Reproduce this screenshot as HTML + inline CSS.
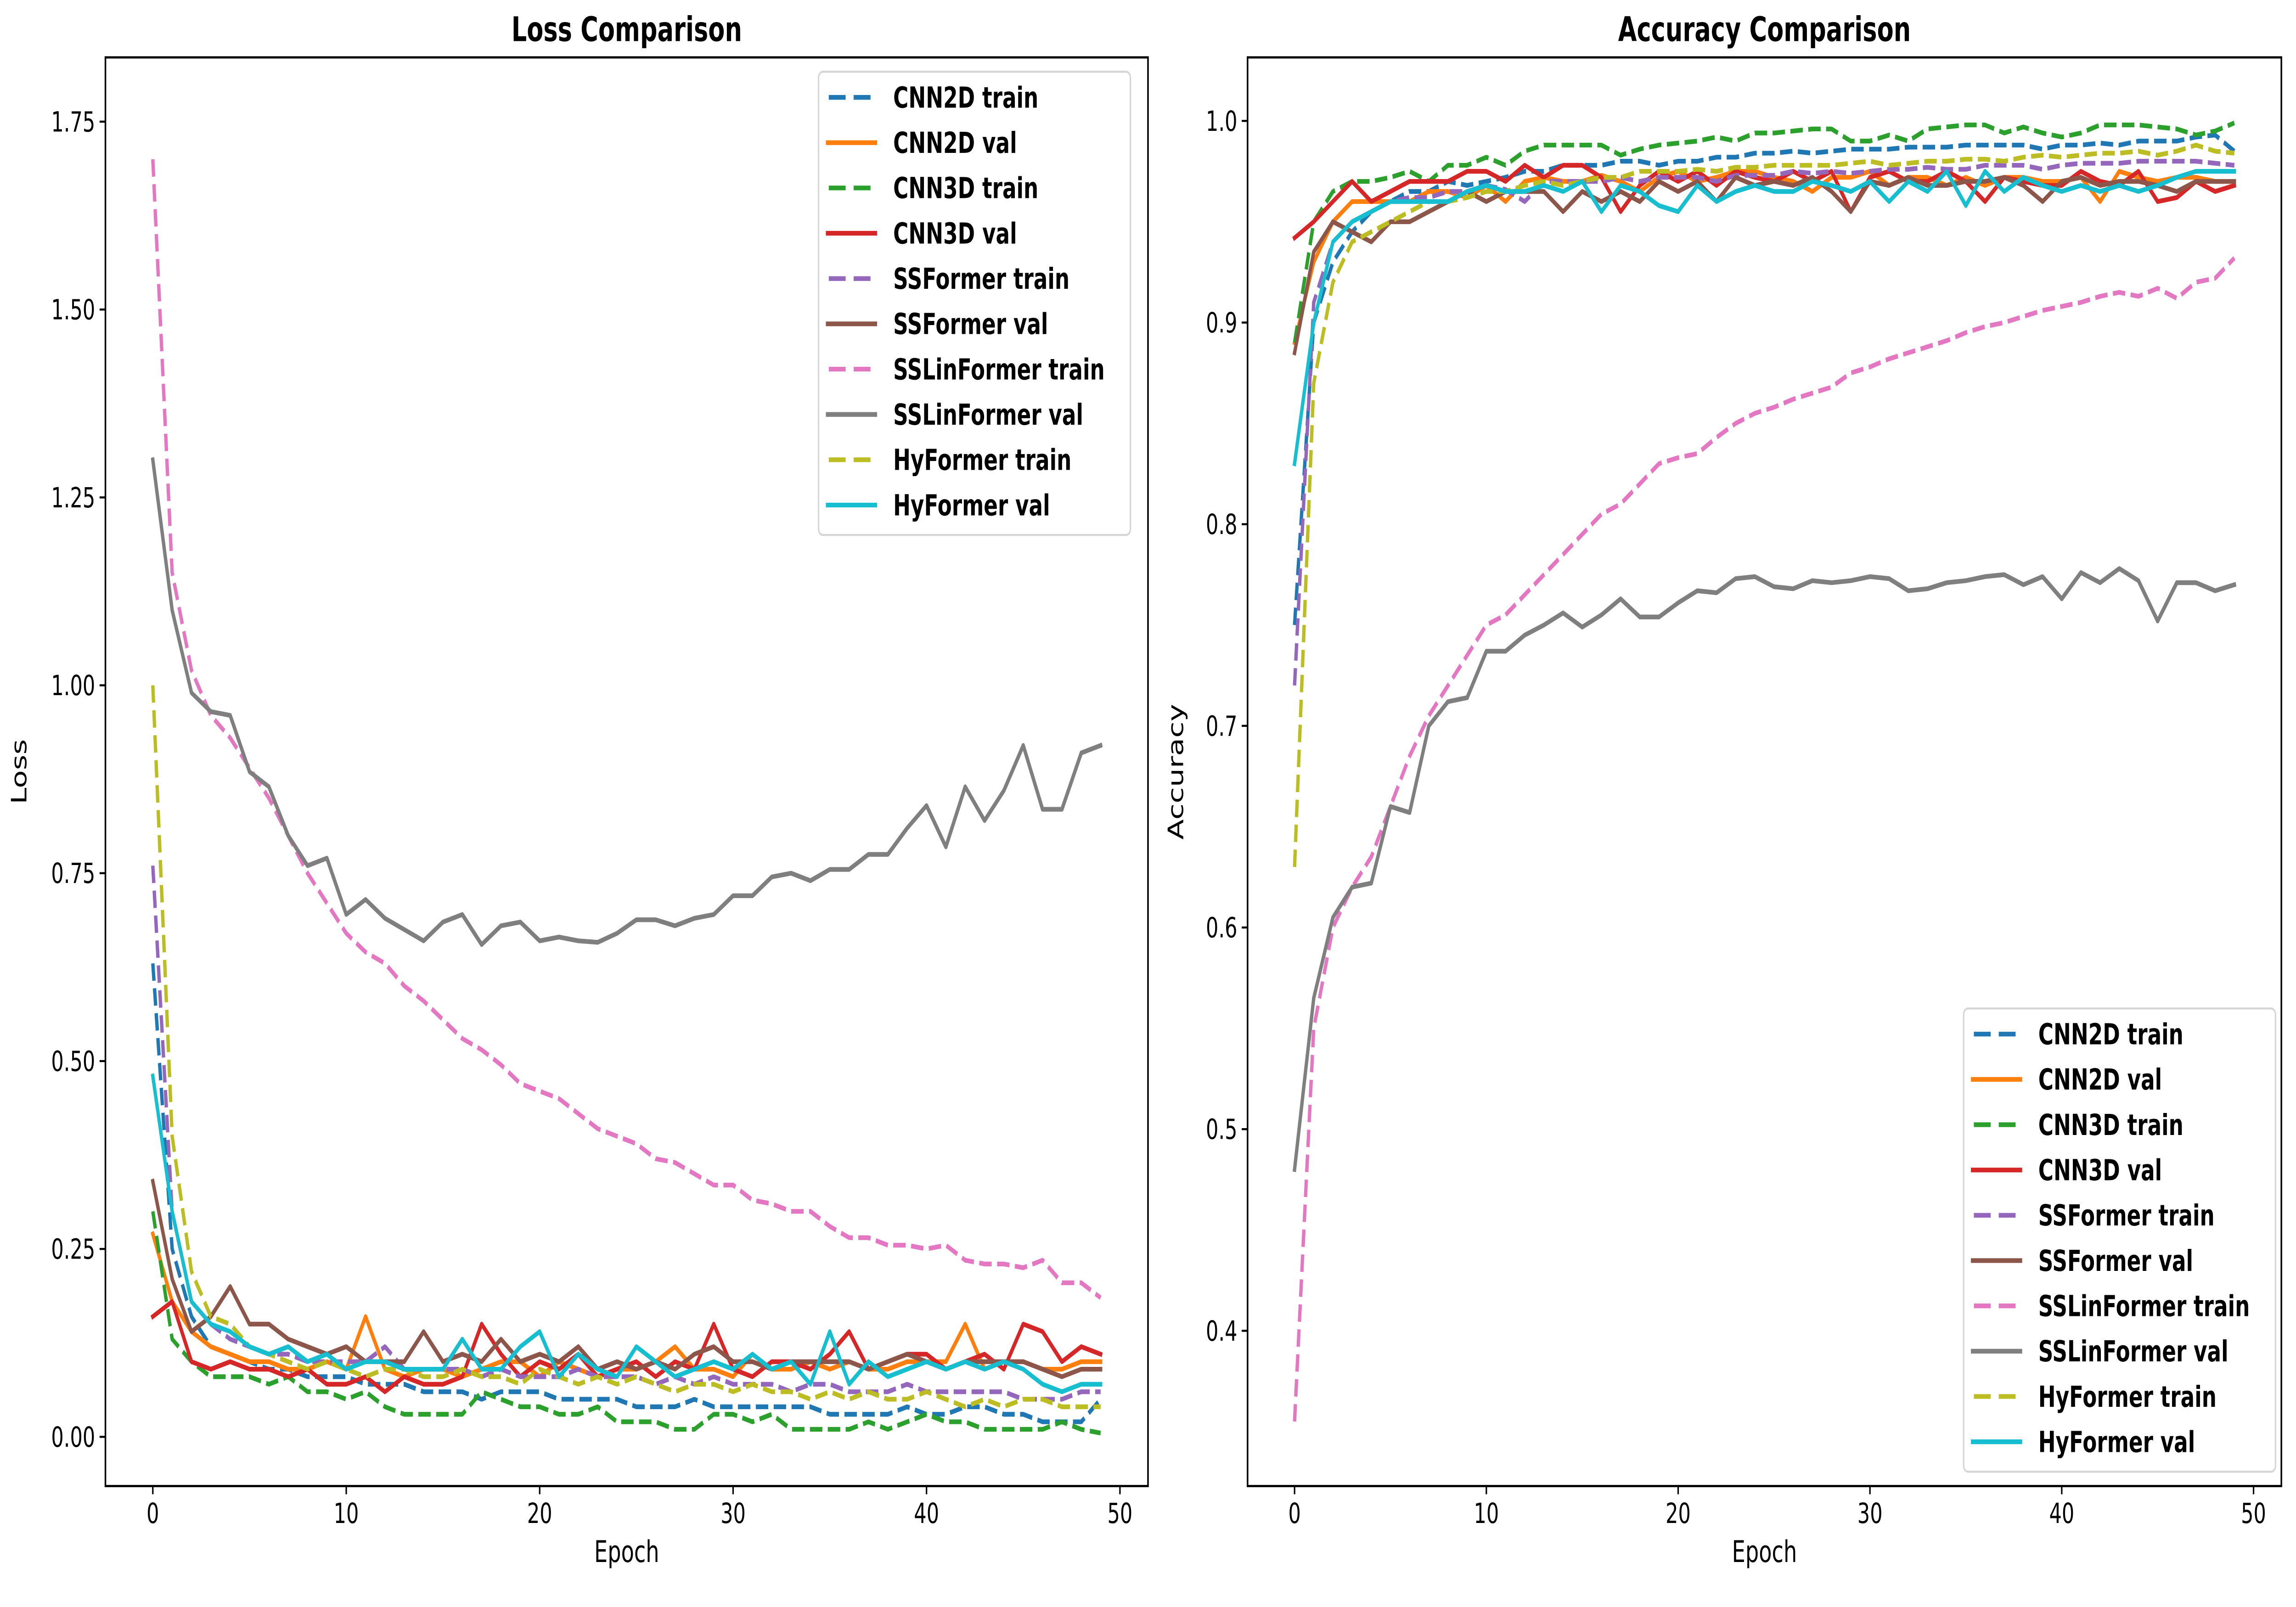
<!DOCTYPE html>
<html><head><meta charset="utf-8"><style>html,body{margin:0;padding:0;background:#fff;overflow:hidden;width:100%;height:100%}svg{display:block;width:100vw;height:100vh}</style></head>
<body>
<svg id="fig" viewBox="0 0 1568 784" preserveAspectRatio="none" xmlns="http://www.w3.org/2000/svg" font-family="DejaVu Sans, Liberation Sans, sans-serif">
<rect width="1568" height="784" fill="#fff"/>
</svg>
<script>
const epochs = Array.from({length:50},(_,i)=>i);
const seriesNames = ["CNN2D train","CNN2D val","CNN3D train","CNN3D val","SSFormer train","SSFormer val","SSLinFormer train","SSLinFormer val","HyFormer train","HyFormer val"];
const seriesColors = ["#1f77b4","#ff7f0e","#2ca02c","#d62728","#9467bd","#8c564b","#e377c2","#7f7f7f","#bcbd22","#17becf"];
const lossCnn2dTrain=[0.63,0.25,0.16,0.12,0.11,0.10,0.09,0.09,0.08,0.08,0.08,0.07,0.07,0.07,0.06,0.06,0.06,0.05,0.06,0.06,0.06,0.05,0.05,0.05,0.05,0.04,0.04,0.04,0.05,0.04,0.04,0.04,0.04,0.04,0.04,0.03,0.03,0.03,0.03,0.04,0.03,0.03,0.04,0.04,0.03,0.03,0.02,0.02,0.02,0.05];
const lossCnn2dVal=[0.27,0.18,0.14,0.12,0.11,0.10,0.10,0.09,0.09,0.10,0.09,0.16,0.09,0.08,0.09,0.09,0.08,0.09,0.10,0.10,0.08,0.10,0.09,0.08,0.09,0.09,0.10,0.12,0.09,0.09,0.08,0.11,0.09,0.09,0.10,0.09,0.10,0.09,0.09,0.10,0.10,0.10,0.15,0.09,0.10,0.10,0.09,0.09,0.10,0.10];
const lossCnn3dTrain=[0.30,0.13,0.10,0.08,0.08,0.08,0.07,0.08,0.06,0.06,0.05,0.06,0.04,0.03,0.03,0.03,0.03,0.06,0.05,0.04,0.04,0.03,0.03,0.04,0.02,0.02,0.02,0.01,0.01,0.03,0.03,0.02,0.03,0.01,0.01,0.01,0.01,0.02,0.01,0.02,0.03,0.02,0.02,0.01,0.01,0.01,0.01,0.02,0.01,0.005];
const lossCnn3dVal=[0.16,0.18,0.10,0.09,0.10,0.09,0.09,0.08,0.09,0.07,0.07,0.08,0.06,0.08,0.07,0.07,0.08,0.15,0.11,0.08,0.10,0.09,0.11,0.08,0.09,0.10,0.08,0.10,0.09,0.15,0.09,0.08,0.10,0.10,0.09,0.11,0.14,0.09,0.10,0.11,0.11,0.09,0.10,0.11,0.09,0.15,0.14,0.10,0.12,0.11];
const lossSsfTrain=[0.76,0.30,0.18,0.15,0.13,0.12,0.11,0.11,0.10,0.10,0.10,0.10,0.12,0.09,0.09,0.09,0.09,0.08,0.09,0.08,0.08,0.08,0.09,0.08,0.08,0.08,0.07,0.08,0.07,0.08,0.07,0.07,0.07,0.06,0.07,0.07,0.06,0.06,0.06,0.07,0.06,0.06,0.06,0.06,0.06,0.05,0.05,0.05,0.06,0.06];
const lossSsfVal=[0.34,0.21,0.14,0.16,0.20,0.15,0.15,0.13,0.12,0.11,0.12,0.10,0.10,0.10,0.14,0.10,0.11,0.10,0.13,0.10,0.11,0.10,0.12,0.09,0.10,0.09,0.10,0.09,0.11,0.12,0.10,0.10,0.09,0.10,0.10,0.10,0.10,0.09,0.10,0.11,0.10,0.09,0.10,0.10,0.10,0.10,0.09,0.08,0.09,0.09];
const lossSslTrain=[1.70,1.15,1.02,0.96,0.93,0.89,0.85,0.80,0.75,0.71,0.67,0.645,0.63,0.60,0.58,0.555,0.53,0.515,0.495,0.47,0.46,0.45,0.43,0.41,0.40,0.39,0.37,0.365,0.35,0.335,0.335,0.315,0.31,0.30,0.30,0.28,0.265,0.265,0.255,0.255,0.25,0.255,0.235,0.23,0.23,0.225,0.235,0.205,0.205,0.185];
const lossSslVal=[1.30,1.10,0.99,0.965,0.96,0.885,0.865,0.80,0.76,0.77,0.695,0.715,0.69,0.675,0.66,0.685,0.695,0.655,0.68,0.685,0.66,0.665,0.66,0.658,0.67,0.688,0.688,0.68,0.69,0.695,0.72,0.72,0.745,0.75,0.74,0.755,0.755,0.775,0.775,0.81,0.84,0.785,0.865,0.82,0.86,0.92,0.835,0.835,0.91,0.92];
const lossHyTrain=[1.00,0.40,0.22,0.16,0.15,0.12,0.11,0.10,0.09,0.10,0.09,0.08,0.09,0.09,0.08,0.08,0.09,0.08,0.08,0.07,0.09,0.08,0.07,0.08,0.07,0.08,0.07,0.06,0.07,0.07,0.06,0.07,0.06,0.06,0.05,0.06,0.05,0.06,0.05,0.05,0.06,0.05,0.04,0.05,0.04,0.05,0.05,0.04,0.04,0.04];
const lossHyVal=[0.48,0.30,0.18,0.15,0.14,0.12,0.11,0.12,0.10,0.11,0.09,0.10,0.10,0.09,0.09,0.09,0.13,0.09,0.09,0.12,0.14,0.08,0.11,0.09,0.08,0.12,0.10,0.08,0.09,0.10,0.09,0.11,0.09,0.10,0.07,0.14,0.07,0.10,0.08,0.09,0.10,0.09,0.10,0.09,0.10,0.09,0.07,0.06,0.07,0.07];
const accCnn2dTrain=[0.75,0.90,0.93,0.945,0.955,0.96,0.965,0.965,0.97,0.968,0.97,0.972,0.975,0.975,0.978,0.978,0.978,0.98,0.98,0.978,0.98,0.98,0.982,0.982,0.984,0.984,0.985,0.984,0.985,0.986,0.986,0.986,0.987,0.987,0.987,0.988,0.988,0.988,0.988,0.986,0.988,0.988,0.989,0.988,0.99,0.99,0.99,0.992,0.993,0.985];
const accCnn2dVal=[0.89,0.93,0.95,0.96,0.96,0.96,0.96,0.965,0.965,0.962,0.968,0.96,0.97,0.972,0.97,0.97,0.973,0.97,0.965,0.972,0.975,0.97,0.972,0.975,0.975,0.972,0.97,0.965,0.972,0.972,0.975,0.968,0.972,0.972,0.968,0.972,0.968,0.972,0.972,0.97,0.97,0.972,0.96,0.975,0.972,0.97,0.972,0.972,0.97,0.97];
const accCnn3dTrain=[0.89,0.95,0.965,0.97,0.97,0.972,0.975,0.97,0.978,0.978,0.982,0.978,0.985,0.988,0.988,0.988,0.988,0.983,0.986,0.988,0.989,0.99,0.992,0.99,0.994,0.994,0.995,0.996,0.996,0.99,0.99,0.993,0.99,0.996,0.997,0.998,0.998,0.994,0.997,0.994,0.992,0.994,0.998,0.998,0.998,0.997,0.996,0.993,0.995,0.999];
const accCnn3dVal=[0.942,0.95,0.96,0.97,0.96,0.965,0.97,0.97,0.97,0.975,0.975,0.97,0.978,0.972,0.978,0.978,0.972,0.955,0.968,0.975,0.97,0.975,0.968,0.975,0.972,0.97,0.975,0.97,0.975,0.955,0.972,0.975,0.97,0.97,0.975,0.97,0.96,0.972,0.97,0.968,0.968,0.975,0.97,0.968,0.975,0.96,0.962,0.97,0.965,0.968];
const accSsfTrain=[0.72,0.91,0.94,0.95,0.955,0.96,0.962,0.962,0.965,0.965,0.968,0.966,0.96,0.97,0.97,0.97,0.97,0.972,0.97,0.972,0.972,0.972,0.97,0.973,0.973,0.973,0.975,0.974,0.975,0.974,0.975,0.976,0.976,0.977,0.976,0.976,0.978,0.978,0.978,0.976,0.978,0.979,0.979,0.979,0.98,0.98,0.98,0.98,0.979,0.978];
const accSsfVal=[0.885,0.935,0.95,0.945,0.94,0.95,0.95,0.955,0.96,0.965,0.96,0.965,0.965,0.965,0.955,0.965,0.96,0.965,0.96,0.97,0.965,0.97,0.96,0.972,0.968,0.97,0.968,0.972,0.965,0.955,0.97,0.968,0.972,0.968,0.968,0.97,0.97,0.972,0.968,0.96,0.97,0.972,0.968,0.97,0.97,0.968,0.965,0.97,0.97,0.97];
const accSslTrain=[0.355,0.55,0.60,0.62,0.635,0.66,0.685,0.705,0.72,0.735,0.75,0.755,0.765,0.775,0.785,0.795,0.805,0.81,0.82,0.83,0.833,0.835,0.843,0.85,0.855,0.858,0.862,0.865,0.868,0.875,0.878,0.882,0.885,0.888,0.891,0.895,0.898,0.90,0.903,0.906,0.908,0.91,0.913,0.915,0.913,0.917,0.912,0.92,0.922,0.932];
const accSslVal=[0.48,0.565,0.605,0.62,0.622,0.66,0.657,0.70,0.712,0.714,0.737,0.737,0.745,0.75,0.756,0.749,0.755,0.763,0.754,0.754,0.761,0.767,0.766,0.773,0.774,0.769,0.768,0.772,0.771,0.772,0.774,0.773,0.767,0.768,0.771,0.772,0.774,0.775,0.770,0.774,0.763,0.776,0.771,0.778,0.772,0.752,0.771,0.771,0.767,0.770];
const accHyTrain=[0.63,0.87,0.92,0.94,0.945,0.95,0.955,0.96,0.96,0.962,0.965,0.965,0.968,0.97,0.968,0.97,0.972,0.972,0.975,0.975,0.975,0.976,0.975,0.977,0.977,0.978,0.978,0.978,0.978,0.979,0.98,0.978,0.979,0.98,0.98,0.981,0.981,0.98,0.982,0.983,0.982,0.983,0.984,0.984,0.985,0.983,0.985,0.988,0.985,0.984];
const accHyVal=[0.83,0.90,0.94,0.95,0.955,0.96,0.96,0.96,0.96,0.965,0.968,0.965,0.965,0.968,0.965,0.97,0.955,0.968,0.965,0.958,0.955,0.968,0.96,0.965,0.968,0.965,0.965,0.97,0.968,0.965,0.97,0.96,0.97,0.965,0.975,0.958,0.975,0.965,0.972,0.968,0.965,0.968,0.965,0.968,0.965,0.968,0.972,0.975,0.975,0.975];
const lossSeries=[lossCnn2dTrain,lossCnn2dVal,lossCnn3dTrain,lossCnn3dVal,lossSsfTrain,lossSsfVal,lossSslTrain,lossSslVal,lossHyTrain,lossHyVal];
const accSeries=[accCnn2dTrain,accCnn2dVal,accCnn3dTrain,accCnn3dVal,accSsfTrain,accSsfVal,accSslTrain,accSslVal,accHyTrain,accHyVal];
const xTicks=[0,10,20,30,40,50];
const lossTicks=[0,0.25,0.5,0.75,1.0,1.25,1.5,1.75];
const lossTickLabels=["0.00","0.25","0.50","0.75","1.00","1.25","1.50","1.75"];
const accTicks=[0.4,0.5,0.6,0.7,0.8,0.9,1.0];
const accTickLabels=["0.4","0.5","0.6","0.7","0.8","0.9","1.0"];

const NS="http://www.w3.org/2000/svg";
const svg=document.getElementById('fig');
function mk(tag,attrs,parent){const e=document.createElementNS(NS,tag);for(const k in attrs)e.setAttribute(k,attrs[k]);(parent||svg).appendChild(e);return e;}

function drawPanel(cfg){
  const g=mk('g',{});
  
  
  const {L,R,T,B,x0,x1,y0,y1}=cfg;
  const sx=v=>L+(v-x0)/(x1-x0)*(R-L);
  const sy=v=>B-(v-y0)/(y1-y0)*(B-T);
  cfg.series.forEach((arr,i)=>{
    const p=mk('polyline',{points:arr.map((v,j)=>sx(epochs[j]).toFixed(2)+','+sy(v).toFixed(2)).join(' '),fill:'none',stroke:seriesColors[i],'stroke-width':2.3,'stroke-linejoin':'round','stroke-linecap':i%2===0?'butt':'square'},g);
    if(i%2===0)p.setAttribute('stroke-dasharray','8.5,3.7');
    
    
  });
  const fr=mk('rect',{x:L,y:T,width:R-L,height:B-T,fill:'none',stroke:'#000','stroke-width':1.1},g);
  
  
  xTicks.forEach(t=>{
    const x=sx(t);
    mk('line',{x1:x,x2:x,y1:B,y2:B+4,stroke:'#000','stroke-width':1},g);
    const tx=mk('text',{x:x,y:B+18,'text-anchor':'middle','font-size':13.5,fill:'#000'},g);
    tx.textContent=String(t);
    
    
  });
  cfg.yTicks.forEach((t,k)=>{
    const y=sy(t);
    mk('line',{x1:L-4,x2:L,y1:y,y2:y,stroke:'#000','stroke-width':1},g);
    const tx=mk('text',{x:L-7,y:y+4.8,'text-anchor':'end','font-size':13.5,fill:'#000'},g);
    tx.textContent=cfg.yLabels[k];
    
    
  });
  const xt=mk('text',{x:(L+R)/2,y:B+37,'text-anchor':'middle','font-size':14.5},g);
  xt.textContent='Epoch';
  
  
  const yt=mk('text',{x:0,y:0,'text-anchor':'middle','font-size':14.5,transform:`translate(${cfg.yTitleX},${(T+B)/2}) rotate(-90)`},g);
  yt.textContent=cfg.yTitle;
  
  
  const ti=mk('text',{x:(L+R)/2,y:T-8,'text-anchor':'middle','font-size':16.5,'font-weight':'bold'},g);
  ti.textContent=cfg.title;
  
  
  const lg=mk('g',{},g);
  
  
  mk('rect',{x:cfg.lx,y:cfg.ly,width:213,height:226,rx:3,fill:'#fff','fill-opacity':0.8,stroke:'#d6d6d6','stroke-width':1},lg);
  seriesNames.forEach((n,i)=>{
    const y=cfg.ly+12.5+i*22.1;
    const ln=mk('line',{x1:cfg.lx+5,x2:cfg.lx+40,y1:y,y2:y,stroke:seriesColors[i],'stroke-width':2.3},lg);
    if(i%2===0){ln.setAttribute('x1',cfg.lx+7);ln.setAttribute('x2',cfg.lx+38);ln.setAttribute('stroke-dasharray','11.5,5.5');}
    
    
    const t=mk('text',{x:cfg.lx+51,y:y+5,'font-size':14.2,'font-weight':'bold'},lg);
    t.textContent=n;
    
    
  });
}
drawPanel({name:'loss-chart',L:72,R:784,T:28,B:725,x0:-2.45,x1:51.45,y0:-0.0655,y1:1.8355,series:lossSeries,yTicks:lossTicks,yLabels:lossTickLabels,yTitle:'Loss',yTitleX:18,title:'Loss Comparison',lx:559,ly:35});
drawPanel({name:'accuracy-chart',L:852,R:1558,T:28,B:725,x0:-2.45,x1:51.45,y0:0.323,y1:1.0315,series:accSeries,yTicks:accTicks,yLabels:accTickLabels,yTitle:'Accuracy',yTitleX:808,title:'Accuracy Comparison',lx:1341,ly:492});
</script>
</body></html>
